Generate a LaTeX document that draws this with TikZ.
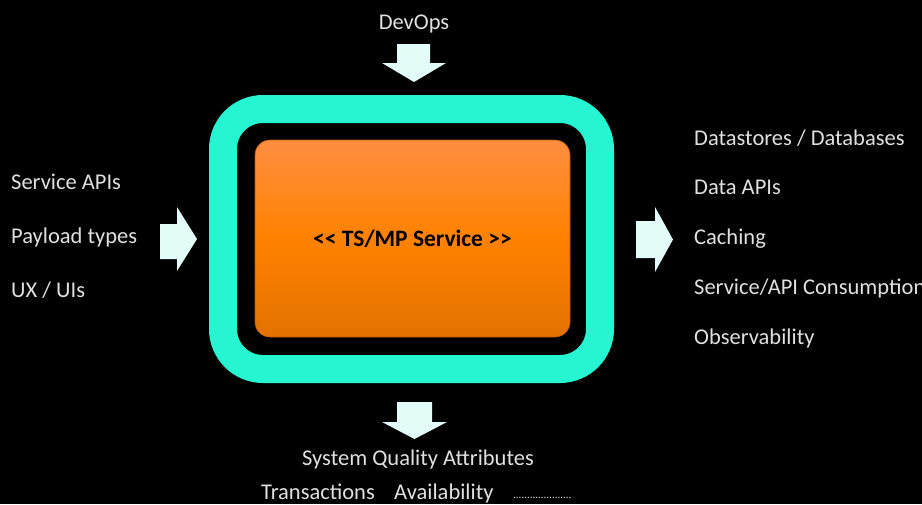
\documentclass[tikz,border=0pt]{standalone}
\usepackage{fontspec}
\setmainfont{Carlito}
\begin{document}
\begin{tikzpicture}[x=1pt,y=-1pt,
  lbl/.style={text=black!12, font=\fontsize{22.5}{26}\selectfont, inner sep=0pt, anchor=base},
  lbll/.style={lbl, anchor=base west},
  arr/.style={fill=arrowc, draw=none}]
\definecolor{teal}{HTML}{26F5D1}
\definecolor{arrowc}{HTML}{E2FCF8}
\definecolor{orTop}{HTML}{FF8E42}
\definecolor{orMid}{HTML}{FF8200}
\definecolor{orBot}{HTML}{E37200}
\fill[black] (0,0) rectangle (922,504);
\useasboundingbox (0,0) rectangle (922,504);
% outer teal frame
\draw[teal, line width=28pt, rounded corners=40pt] (223,109) rectangle (600,369);
% orange core
\node[draw=orBot!80!black, line width=0.6pt, rounded corners=15pt, minimum width=315pt, minimum height=197pt,
  top color=orTop, bottom color=orBot, middle color=orMid, font=\fontsize{23.5}{27}\selectfont\bfseries] (core) at (412.5,238.5) {{<}{<} TS/MP Service {>}{>}};
% arrows
\fill[arr] (397,44) -- (430,44) -- (430,63) -- (446,63) -- (414,82) -- (382,63) -- (397,63) -- cycle;
\fill[arr] (397,402) -- (432,402) -- (432,422) -- (447,422) -- (414.5,439) -- (382,422) -- (397,422) -- cycle;
\fill[arr] (160,224) -- (177,224) -- (177,207) -- (197,239) -- (177,271) -- (177,259) -- (160,259) -- cycle;
\fill[arr] (636,221) -- (655,221) -- (655,207) -- (673,239.5) -- (655,272) -- (655,258) -- (636,258) -- cycle;
% labels
\node[lbl] (devops) at (414,29.5) {DevOps};
\node[lbll] (sapi) at (11,189.5) {Service APIs};
\node[lbll] (payload) at (11,243.5) {Payload types};
\node[lbll] (ux) at (11,297.5) {UX / UIs};
\node[lbll] (ds) at (694,145.5) {Datastores / Databases};
\node[lbll] (dapi) at (694,194.5) {Data APIs};
\node[lbll] (cache) at (694,244.5) {Caching};
\node[lbll] (cons) at (694,294.5) {Service/API Consumption};
\node[lbll] (obs) at (694,344.5) {Observability};
\node[lbl] (sqa) at (418,465.5) {System Quality Attributes};
\node[lbll] (tx) at (261,499) {Transactions};
\node[lbll] (av) at (394,499) {Availability};
\node[lbll, font=\fontsize{11}{12}\selectfont] (dots) at (513,498) {.....................};
\end{tikzpicture}
\end{document}
